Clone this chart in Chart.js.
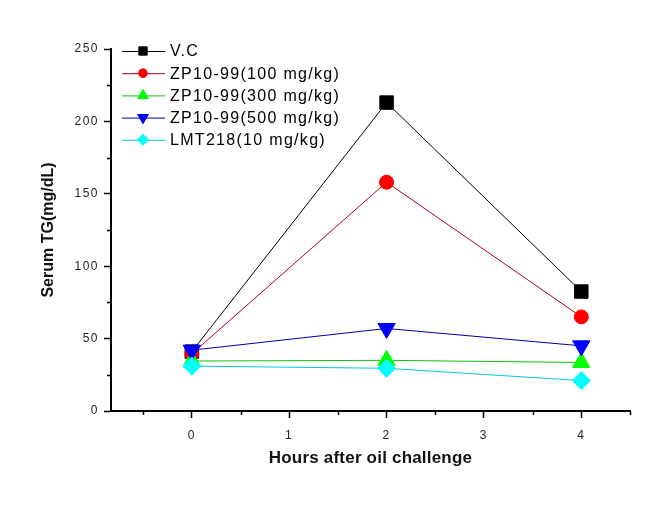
<!DOCTYPE html>
<html>
<head>
<meta charset="utf-8">
<script src="https://cdn.jsdelivr.net/npm/chart.js@4"></script>
<style>
  html, body { margin: 0; padding: 0; background: #fff; }
  canvas { display: block; }
</style>
</head>
<body>
<canvas id="chart" width="667" height="506"></canvas>
<script>
const hours = [0, 2, 4];
const seriesNames = ["V.C", "ZP10-99(100 mg/kg)", "ZP10-99(300 mg/kg)", "ZP10-99(500 mg/kg)", "LMT218(10 mg/kg)"];
const vc = [41, 213, 82.5];
const zp100 = [39.5, 158, 65];
const zp300 = [34.5, 35, 33.5];
const zp500 = [42, 57, 45];
const lmt218 = [31, 29.5, 21];
const yTicks = [0, 50, 100, 150, 200, 250];

const colors = [
    { line: "#000000", fill: "#000000", style: "rect", radius: 9.5, rotation: 0 },
    { line: "#b00018", fill: "#ff0000", style: "circle", radius: 7, rotation: 0 },
    { line: "#10c010", fill: "#00ff00", style: "triangle", radius: 10, rotation: 0 },
    { line: "#0000a8", fill: "#0000ff", style: "triangle", radius: 10, rotation: 180 },
    { line: "#00c8dc", fill: "#00ffff", style: "rectRot", radius: 9, rotation: 0 }
];
const allValues = [vc, zp100, zp300, zp500, lmt218];

function toPoints(vals) {
    return hours.map((h, i) => ({ x: h, y: vals[i] }));
}

// axis titles are drawn without the extra letter spacing of the tick labels
function plainTitle(s) {
    if (s._plainTitle) return;
    const orig = s.drawTitle;
    s.drawTitle = function () {
        const ctx = this.ctx;
        const ls = ctx.letterSpacing;
        ctx.letterSpacing = this.axis === "x" ? "0.2px" : "0px";
        orig.call(this);
        ctx.letterSpacing = ls;
    };
    s._plainTitle = true;
}

// minor ticks plus a legend drawn like the original plot
const extras = {
    id: "extras",
    beforeDraw(chart) {
        chart.ctx.letterSpacing = "1.5px";
    },
    afterDraw(chart) {
        const ctx = chart.ctx;
        const xs = chart.scales.x, ys = chart.scales.y;
        ctx.save();
        ctx.strokeStyle = "#000";
        ctx.lineWidth = 1.5;
        ctx.beginPath();
        for (let v = 25; v < 250; v += 50) {
            const py = Math.round(ys.getPixelForValue(v)) + 0.5;
            ctx.moveTo(xs.left - 4, py);
            ctx.lineTo(xs.left, py);
        }
        for (let v = -0.5; v <= 4.5; v += 1) {
            const px = Math.round(xs.getPixelForValue(v)) + 0.5;
            ctx.moveTo(px, ys.bottom);
            ctx.lineTo(px, ys.bottom + 4);
        }
        ctx.stroke();

        // legend
        const lx = 122, ly = 51, step = 22.2;
        ctx.font = "16px 'Liberation Sans', Arial, sans-serif";
        ctx.letterSpacing = "1.3px";
        ctx.textBaseline = "middle";
        ctx.fillStyle = "#000";
        chart.data.datasets.forEach((ds, i) => {
            const y = ly + i * step;
            const c = colors[i];
            ctx.strokeStyle = c.line;
            ctx.lineWidth = 1;
            ctx.beginPath();
            ctx.moveTo(lx, y + 0.5);
            ctx.lineTo(lx + 43, y + 0.5);
            ctx.stroke();
            ctx.fillStyle = c.fill;
            ctx.strokeStyle = c.fill;
            Chart.helpers.drawPoint(ctx, { pointStyle: c.style, radius: c.radius * 0.62, rotation: c.rotation, borderWidth: 1 }, lx + 21, y);
            ctx.fillStyle = "#000";
            ctx.fillText(ds.label, lx + 48, y + 1);
        });
        ctx.restore();
    }
};

const chart = new Chart(document.getElementById("chart"), {
    type: "line",
    data: {
        datasets: seriesNames.map((name, i) => ({
            label: name,
            data: toPoints(allValues[i]),
            borderColor: colors[i].line,
            borderWidth: 1,
            backgroundColor: colors[i].fill,
            pointBackgroundColor: colors[i].fill,
            pointBorderColor: colors[i].fill,
            pointStyle: colors[i].style,
            pointRadius: colors[i].radius,
            pointRotation: colors[i].rotation,
            pointBorderWidth: 1,
            tension: 0,
            order: 5 - i
        }))
    },
    options: {
        responsive: false,
        animation: false,
        devicePixelRatio: 1,
        layout: { padding: { left: 0, top: 49, right: 37, bottom: 0 } },
        plugins: {
            legend: { display: false },
            tooltip: { enabled: false }
        },
        scales: {
            x: {
                type: "linear",
                min: -0.83,
                max: 4.5,
                afterFit: (s) => { s.height = 95; },
                afterUpdate: plainTitle,
                grid: { drawOnChartArea: false, tickLength: 7, tickColor: "#000", tickWidth: 1.5 },
                border: { color: "#000", width: 2 },
                ticks: {
                    stepSize: 1,
                    includeBounds: false,
                    color: "#222",
                    padding: 10,
                    font: { family: "'Liberation Sans', Arial, sans-serif", size: 12 }
                },
                title: {
                    display: true,
                    text: "Hours after oil challenge",
                    color: "#111",
                    padding: { top: 0, bottom: 37 },
                    font: { family: "'Liberation Sans', Arial, sans-serif", size: 17, weight: "bold" }
                }
            },
            y: {
                min: 0,
                max: 250,
                afterFit: (s) => { s.width = 111; },
                afterUpdate: plainTitle,
                afterBuildTicks: (s) => { s.ticks = yTicks.map(v => ({ value: v })); },
                grid: { drawOnChartArea: false, tickLength: 7, tickColor: "#000", tickWidth: 1.5 },
                border: { color: "#000", width: 2 },
                ticks: {
                    color: "#222",
                    padding: 5,
                    font: { family: "'Liberation Sans', Arial, sans-serif", size: 12 }
                },
                title: {
                    display: true,
                    text: "Serum TG(mg/dL)",
                    color: "#111",
                    padding: { top: 39, bottom: 0 },
                    font: { family: "'Liberation Sans', Arial, sans-serif", size: 16, weight: "bold" }
                }
            }
        }
    },
    plugins: [extras]
});
</script>
</body>
</html>
